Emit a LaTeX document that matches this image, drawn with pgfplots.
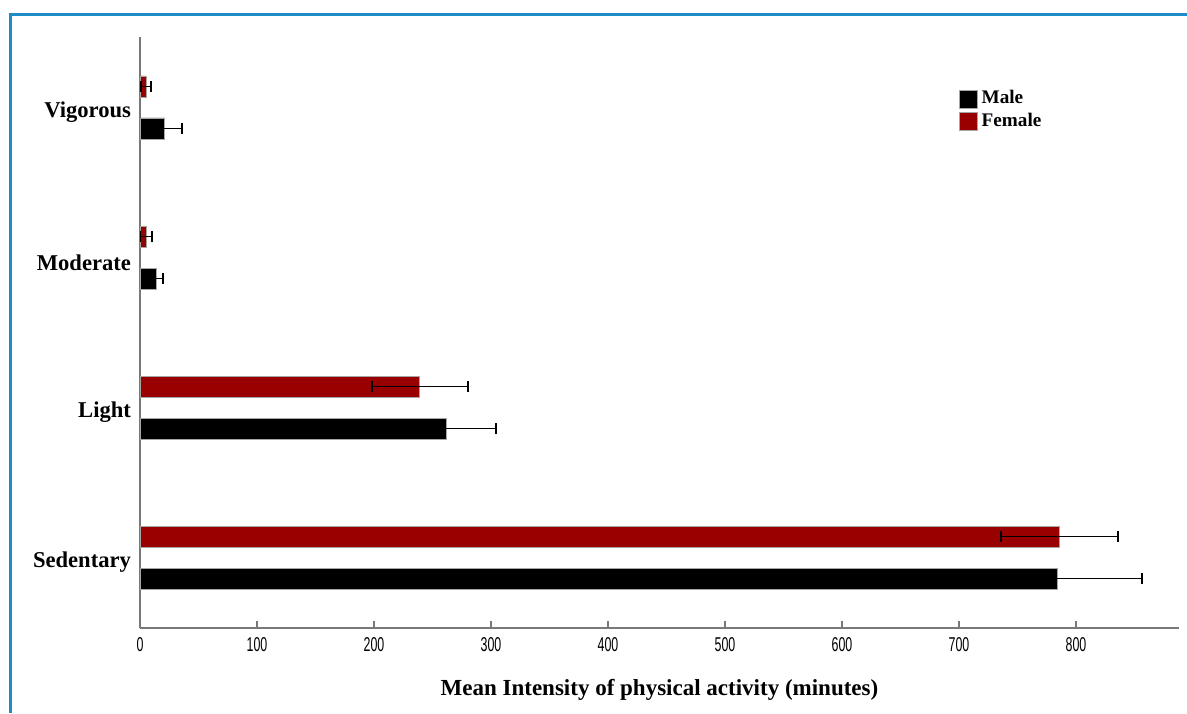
\documentclass[border=0pt]{standalone}
\usepackage{pgfplots}
\pgfplotsset{compat=1.18}
\usepackage{fontspec}
\setmainfont{Liberation Serif}
\newfontfamily\tickfont{Liberation Sans}
\definecolor{femalered}{RGB}{153,0,0}
\definecolor{framblue}{RGB}{30,140,200}
\definecolor{axgray}{RGB}{120,120,120}
\begin{document}
\begin{tikzpicture}[x=0.5pt,y=0.5pt]
\useasboundingbox (0,0) rectangle (1187,713);
\draw[framblue,line width=1.5pt] (10,0) -- (10,698) -- (1187,698);
\begin{axis}[
  at={(70pt,42.5pt)}, anchor=south west,
  scale only axis, width=519.5pt, height=295.5pt,
  xbar, bar width=10.5pt,
  xmin=0, xmax=888, ymin=-0.47, ymax=3.47,
  axis x line*=bottom, axis y line*=left,
  axis line style={axgray, line width=0.8pt, -},
  xtick={0,100,...,800},
  xticklabel style={font=\tickfont\fontsize{10}{12}\selectfont, yshift=-1pt},
  xticklabel={\scalebox{0.62}[1]{\pgfmathprintnumber[assume math mode=true]{\tick}}},
  tick align=inside, major tick length=3.5pt,
  x tick style={axgray, line width=0.6pt},
  ytick={0,1,2,3},
  yticklabels={Sedentary,Light,Moderate,Vigorous},
  y tick style={draw=none},
  yticklabel style={font=\fontsize{11.3}{13}\selectfont\bfseries, xshift=-1pt, yshift=-2.5pt},
  xlabel={Mean Intensity of physical activity (minutes)},
  xlabel style={font=\fontsize{11.5}{13}\selectfont\bfseries, at={(axis description cs:0.5,0)}, anchor=center, yshift=-31pt},
  legend style={at={(0.786,0.92)}, anchor=north west, draw=none, fill=none,
    font=\fontsize{9.6}{11}\selectfont\bfseries, row sep=-1pt, inner sep=1pt},
  legend cell align=left,
  legend image code/.code={\fill[#1] (0pt,-4.5pt) rectangle (9pt,4.5pt);},
  error bars/error bar style={black, line width=0.8pt},
  error bars/error mark=|,
  error bars/error mark options={black, line width=1pt, mark size=2.6pt},
]
\addplot[fill=black, draw=gray!70, line width=0.3pt, bar shift=-10.5pt,
  error bars/.cd, x dir=both, x explicit] coordinates {
  (784,0) +- (72,0)
  (262,1) +- (42,0)
  (14,2) +- (6,0)
  (21,3) +- (15,0)
};
\addlegendentry{Male}
\addplot[fill=femalered, draw=gray!70, line width=0.3pt, bar shift=10.5pt,
  error bars/.cd, x dir=both, x explicit] coordinates {
  (786,0) +- (50,0)
  (239,1) +- (41,0)
  (5,2) +- (5,0)
  (5,3) +- (4,0)
};
\addlegendentry{Female}
\end{axis}
\end{tikzpicture}
\end{document}
